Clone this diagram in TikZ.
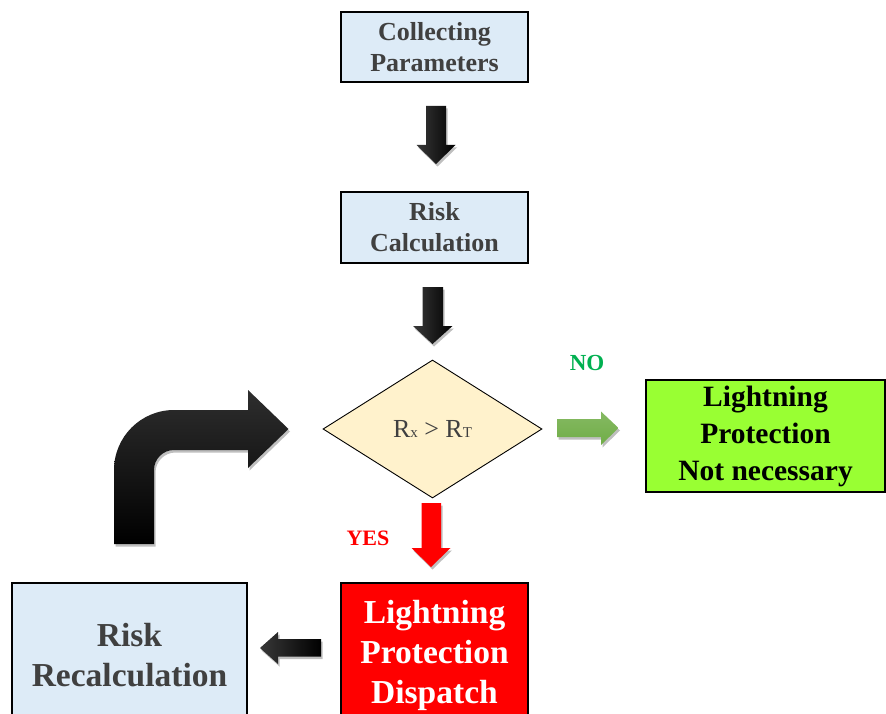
\documentclass[tikz,border=0pt]{standalone}
\usepackage{fontspec}
\setmainfont{Liberation Serif}
\usetikzlibrary{shapes.geometric,shadows}

\definecolor{boxblue}{HTML}{DDEBF7}
\definecolor{textgray}{HTML}{404040}
\definecolor{decisionfill}{HTML}{FFF2CC}
\definecolor{limefill}{HTML}{99FF33}
\definecolor{alarmred}{HTML}{FF0000}
\definecolor{arrowgreen}{HTML}{70AD47}
\definecolor{nogreen}{HTML}{00B050}

\begin{document}
\begin{tikzpicture}[x=1pt,y=-1pt,
  box/.style={draw=black, line width=2pt, align=center, inner sep=0pt},
  stepbox/.style={box, fill=boxblue, text=textgray,
    minimum width=187pt, minimum height=70pt,
    font=\fontsize{26pt}{31pt}\selectfont\bfseries},
  bigbox/.style={box, minimum height=144pt,
    font=\fontsize{33.5pt}{40pt}\selectfont\bfseries},
  decision/.style={diamond, draw=black, line width=0.9pt, fill=decisionfill,
    text=textgray, minimum width=219pt, minimum height=138pt, inner sep=0pt,
    font=\fontsize{26pt}{30pt}\selectfont},
  blockshadow/.style={drop shadow={shadow xshift=1.5pt, shadow yshift=-2.5pt,
    opacity=0.25, fill=black}},
  blackarrow/.style={blockshadow, left color=black!78, right color=black},
  tag/.style={font=\fontsize{23pt}{26pt}\selectfont\bfseries}
]
\useasboundingbox (0,0) rectangle (886,714);
\clip (0,0) rectangle (886,714);

% process boxes
\node[stepbox] (collect) at (434.5,47) {Collecting\\Parameters};
\node[stepbox] (calc) at (434.5,227.5) {Risk\\Calculation};
\node[decision] (cmp) at (432.5,429)
  {R{\fontsize{15pt}{15pt}\selectfont x} > R{\fontsize{15pt}{15pt}\selectfont T}};
\node[box, fill=limefill, text=black, minimum width=239pt, minimum height=112pt,
  font=\fontsize{29.5pt}{37pt}\selectfont\bfseries] (nolp) at (765.5,436)
  {Lightning\\Protection\\Not necessary};
\node[bigbox, fill=alarmred, text=white, minimum width=187pt] (dispatch) at (434.5,655)
  {Lightning\\Protection\\Dispatch};
\node[bigbox, fill=boxblue, text=textgray, minimum width=235pt] (recalc) at (129.5,655)
  {Risk\\Recalculation};

% branch labels
\node[tag, text=nogreen] (nolabel) at (587,363) {NO};
\node[tag, text=alarmred, font=\fontsize{22pt}{24pt}\selectfont\bfseries] (yeslabel) at (368,538) {YES};

% block arrows
\path[blackarrow] (426,106) -- (446,106) -- (446,145) -- (455.5,145) -- (436,164)
  -- (416.5,145) -- (426,145) -- cycle;
\path[blackarrow] (422.5,287) -- (443,287) -- (443,326) -- (452.5,326) -- (432.5,344)
  -- (413,326) -- (422.5,326) -- cycle;
\path[blockshadow, fill=alarmred] (421.5,503) -- (441,503) -- (441,548) -- (450.5,548)
  -- (431,567) -- (411.5,548) -- (421.5,548) -- cycle;
\path[blockshadow, top color=arrowgreen!85!white, bottom color=arrowgreen]
  (557,419) -- (601,419) -- (601,411.5) -- (618.5,428) -- (601,445) -- (601,437)
  -- (557,437) -- cycle;
\path[blackarrow] (321,639) -- (278,639) -- (278,632) -- (260,648) -- (278,664)
  -- (278,656.5) -- (321,656.5) -- cycle;

% bent return arrow
\path[blockshadow, top color=black!82, bottom color=black]
  (114,544) -- (114,470) .. controls (114,436.9) and (140.9,410) .. (174,410)
  -- (248,410) -- (248,390) -- (288.5,429) -- (248,468) -- (248,450) -- (174,450)
  .. controls (163,450) and (154,459) .. (154,470) -- (154,544) -- cycle;
\end{tikzpicture}
\end{document}
